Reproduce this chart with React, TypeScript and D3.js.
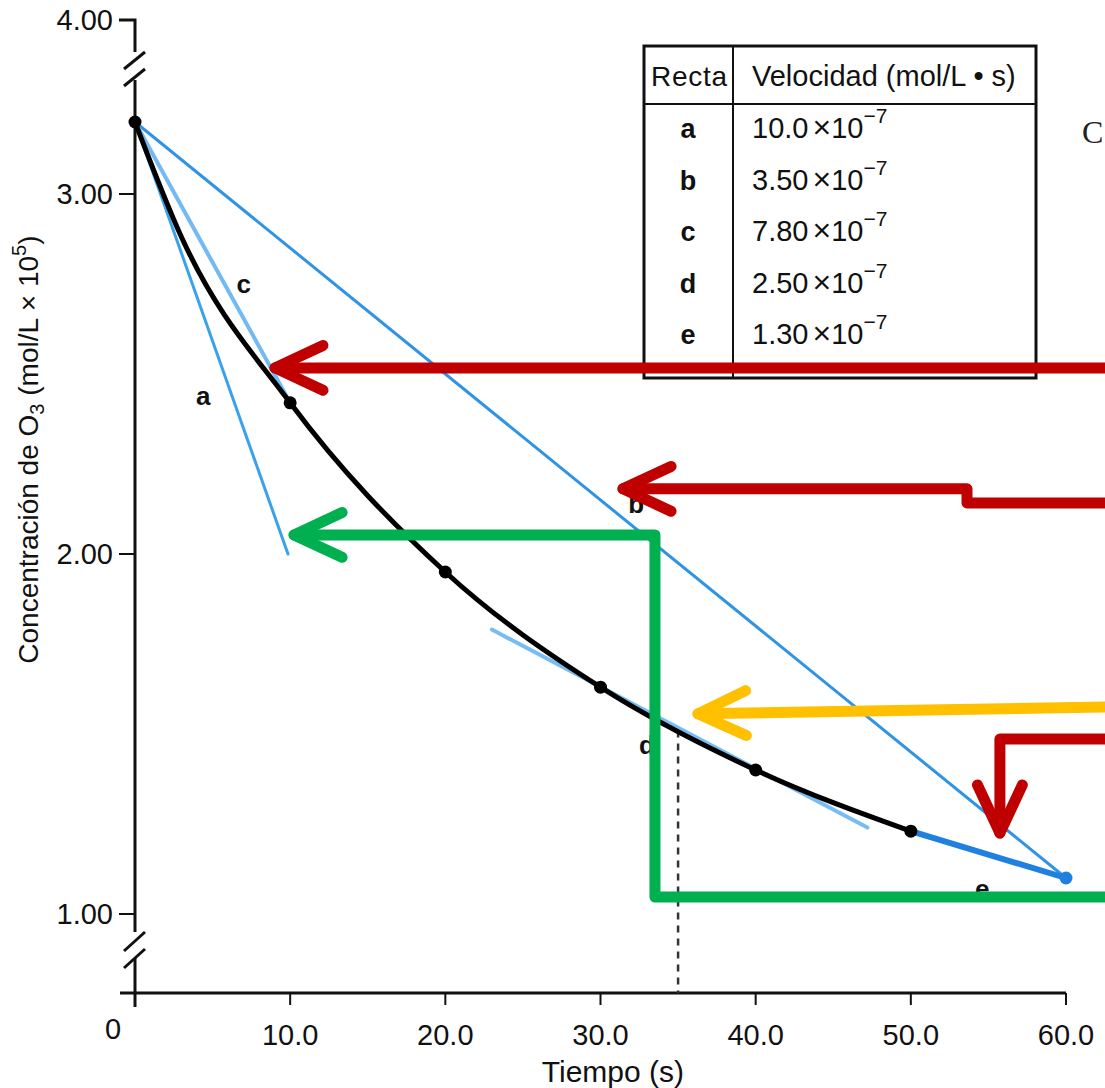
import React from 'react';
import * as d3 from 'd3';

// ---- data ----
const times = [0, 10, 20, 30, 40, 50, 60];
const concentrations = [3.2, 2.42, 1.95, 1.63, 1.4, 1.23, 1.1];

// one extra point (no dot), where it bends hardest
const curveTimes = [0, 3, 10, 20, 30, 40, 50];
const curveConc = [3.2, 2.88, 2.42, 1.95, 1.63, 1.4, 1.23];

const xTicks = [10, 20, 30, 40, 50, 60];
const xTickLabels = ['10.0', '20.0', '30.0', '40.0', '50.0', '60.0'];
const yTicks = [1, 2, 3, 4];
const yTickLabels = ['1.00', '2.00', '3.00', '4.00'];

// straight lines a..e (start / end in [time, conc])
const lineNames = ['a', 'b', 'c', 'd', 'e'];
const lineRates = ['10.0', '3.50', '7.80', '2.50', '1.30'];
const lineFrom = [[0, 3.2], [0, 3.2], [0, 3.2], [23, 1.79], [50, 1.23]];
const lineTo = [[9.86, 2.0], [60, 1.1], [10, 2.42], [47.2, 1.24], [60, 1.1]];
const labelAt = [[4.4, 2.44], [32.3, 2.14], [7.0, 2.75], [33.0, 1.47], [54.6, 1.07]];

const tangentTime = 35;
const tangentConc = 1.51;

// annotation arrows drawn on top of the figure, in [time, conc]
const arrowColors = ['#c00000', '#c00000', '#00b050', '#ffc000', '#c00000'];
const arrowPaths = [
  [[62.5, 2.517], [9.02, 2.517]],
  [[62.5, 2.142], [53.62, 2.142], [53.62, 2.181], [31.45, 2.181]],
  [[62.5, 1.047], [33.51, 1.047], [33.51, 2.053], [10.25, 2.053]],
  [[62.5, 1.575], [36.28, 1.556]],
  [[62.5, 1.486], [55.74, 1.486], [55.74, 1.225]],
];

const lineStyle = {
  a: { stroke: '#3aa2ec', width: 3, opacity: 1 },
  b: { stroke: '#2f93e6', width: 3, opacity: 1 },
  c: { stroke: '#5aaef2', width: 4, opacity: 0.85 },
  d: { stroke: '#4aa6ee', width: 4, opacity: 0.75 },
  e: { stroke: '#2080e0', width: 6, opacity: 1 },
};

const font = '"Liberation Sans", Arial, Helvetica, sans-serif';

export default function App() {
  const x = d3.scaleLinear().domain([0, 60]).range([135, 1066]);
  // broken axis: 0..1 squeezed, 1..3.3 regular, 3.3..4 squeezed
  const y = d3.scaleLinear().domain([0, 1, 3.3, 4]).range([993, 914, 86, 20]);

  const curve = d3.line<number>()
    .x((_, i) => x(curveTimes[i]))
    .y(d => y(d))
    .curve(d3.curveMonotoneX);

  const arrowHead = (pts: number[][]) => {
    const p = pts.map(d => [x(d[0]), y(d[1])]);
    const a = p[p.length - 2];
    const b = p[p.length - 1];
    const th = Math.atan2(b[1] - a[1], b[0] - a[0]);
    const L = 53;
    const phi = (25 * Math.PI) / 180;
    const l = [b[0] - L * Math.cos(th - phi), b[1] - L * Math.sin(th - phi)];
    const r = [b[0] - L * Math.cos(th + phi), b[1] - L * Math.sin(th + phi)];
    return `M${l[0]},${l[1]}L${b[0]},${b[1]}L${r[0]},${r[1]}`;
  };
  const polyline = d3.line<number[]>().x(d => x(d[0])).y(d => y(d[1]));

  const axisX = x(0);
  const axisY = y(0);

  return (
    <svg width={1105} height={1088} style={{ position: 'absolute', left: 0, top: 0, background: '#fff' }}
      fontFamily={font}>
      {/* y axis with breaks */}
      <g stroke="#111" strokeWidth={3} fill="none">
        <path d={`M${axisX - 16},${y(4)}H${axisX}V${y(4) + 32}`} />
        <path d={`M${axisX},${y(4) + 60}V${932}`} />
        <path d={`M${axisX},${958}V${axisY + 14}`} />
        <path d={`M${axisX - 11},${y(4) + 49}L${axisX + 10},${y(4) + 32}`} />
        <path d={`M${axisX - 11},${y(4) + 66}L${axisX + 10},${y(4) + 49}`} />
        <path d={`M${axisX - 11},${951}L${axisX + 10},${932}`} />
        <path d={`M${axisX - 11},${968}L${axisX + 10},${949}`} />
        {yTicks.slice(0, 3).map(t => (
          <line key={t} x1={axisX - 16} x2={axisX} y1={y(t)} y2={y(t)} strokeWidth={2} />
        ))}
        <line x1={axisX - 15} x2={x(60)} y1={axisY} y2={axisY} />
        {xTicks.map(t => (
          <line key={t} x1={x(t)} x2={x(t)} y1={axisY} y2={axisY + 12} strokeWidth={2} />
        ))}
      </g>
      <g fontSize={29} fill="#111" textAnchor="end">
        {yTicks.map((t, i) => (
          <text key={t} x={axisX - 22} y={y(t) + 10}>{yTickLabels[i]}</text>
        ))}
      </g>
      <g fontSize={29} fill="#111" textAnchor="middle">
        <text x={axisX - 22} y={axisY + 46}>0</text>
        {xTicks.map((t, i) => (
          <text key={t} x={x(t)} y={axisY + 52}>{xTickLabels[i]}</text>
        ))}
        <text x={x(30.8)} y={axisY + 89} fontSize={30}>Tiempo (s)</text>
        <text transform={`translate(38,${y(2.29)}) rotate(-90)`} fontSize={28}>
          Concentración de O<tspan fontSize={20} dy={6}>3</tspan>
          <tspan dy={-6}> (mol/L × 10</tspan>
          <tspan fontSize={20} dy={-12}>5</tspan>
          <tspan dy={12}>)</tspan>
        </text>
      </g>

      {/* dashed drop line at t = 35 */}
      <line x1={x(tangentTime)} x2={x(tangentTime)} y1={y(tangentConc)} y2={axisY}
        stroke="#333" strokeWidth={2.5} strokeDasharray="7,6" />

      {/* straight lines a..e */}
      {lineNames.map((n, i) => {
        const s = lineStyle[n as keyof typeof lineStyle];
        return (
          <line key={n} x1={x(lineFrom[i][0])} y1={y(lineFrom[i][1])}
            x2={x(lineTo[i][0])} y2={y(lineTo[i][1])}
            stroke={s.stroke} strokeWidth={s.width} strokeOpacity={s.opacity} strokeLinecap="round" />
        );
      })}

      {/* concentration curve */}
      <path d={curve(curveConc) || ''} fill="none" stroke="#000" strokeWidth={5} />
      {times.map((t, i) => (
        <circle key={t} cx={x(t)} cy={y(concentrations[i])} r={6.5}
          fill={i === times.length - 1 ? '#2080e0' : '#000'} />
      ))}

      {/* line labels */}
      <g fontSize={26} fontWeight="bold" fill="#111" textAnchor="middle">
        {lineNames.map((n, i) => (
          <text key={n} x={x(labelAt[i][0])} y={y(labelAt[i][1]) + 9}>{n}</text>
        ))}
      </g>

      {/* rate table */}
      <g fill="#111">
        <rect x={644} y={46} width={392} height={332} fill="#fff" stroke="#111" strokeWidth={3} />
        <line x1={644} x2={1036} y1={104} y2={104} stroke="#111" strokeWidth={2} />
        <line x1={733} x2={733} y1={46} y2={378} stroke="#111" strokeWidth={2} />
        <text x={689} y={86} fontSize={28} textAnchor="middle" textLength={76}>Recta</text>
        <text x={752} y={86} fontSize={29}>Velocidad (mol/L • s)</text>
        {lineNames.map((n, i) => (
          <g key={n}>
            <text x={688} y={138 + i * 51.5} fontSize={27} fontWeight="bold" textAnchor="middle">{n}</text>
            <text x={752} y={138 + i * 51.5} fontSize={29}>
              {lineRates[i]}<tspan dx={4} fontSize={32}>×</tspan>10<tspan fontSize={21} dy={-15}>−7</tspan>
            </text>
          </g>
        ))}
      </g>
      <text x={1082} y={143} fontSize={32} fontFamily='"Liberation Serif", serif' fill="#222">C</text>

      {/* annotation arrows */}
      <g fill="none" strokeLinecap="round" strokeLinejoin="round">
        {arrowPaths.map((pts, i) => (
          <g key={i} stroke={arrowColors[i]} strokeWidth={11}>
            <path d={polyline(pts) || ''} />
            <path d={arrowHead(pts)} />
          </g>
        ))}
      </g>
    </svg>
  );
}
